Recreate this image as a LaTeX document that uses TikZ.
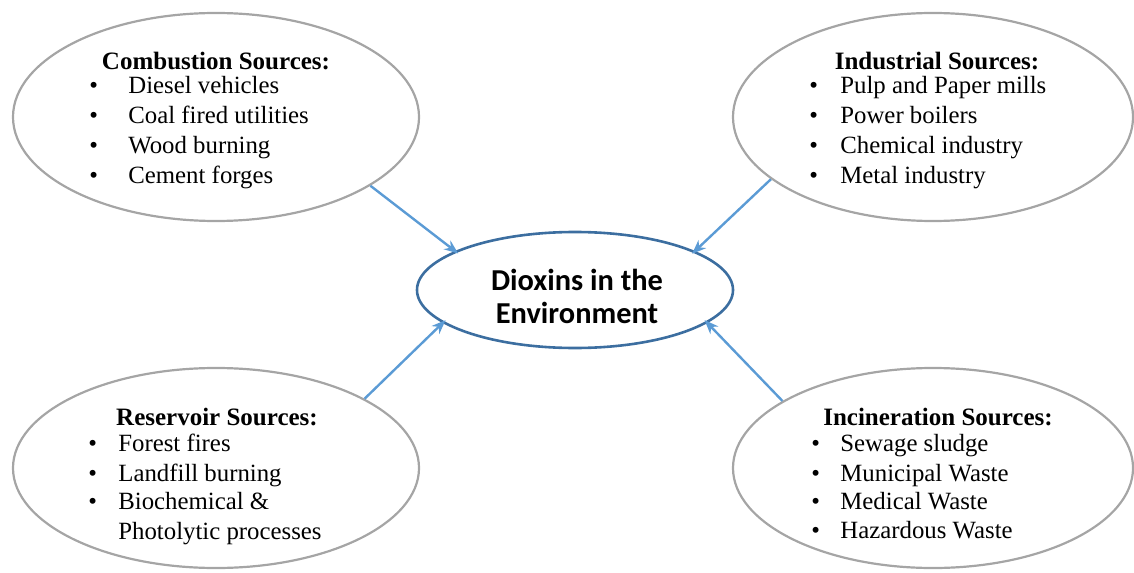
\documentclass[tikz,border=0pt]{standalone}
\usepackage{fontspec}
\setmainfont{Liberation Serif}
\newfontfamily\calibrifont{Carlito}
\usetikzlibrary{arrows.meta,shapes.geometric}
\definecolor{srcgray}{RGB}{165,165,165}
\definecolor{arrowblue}{RGB}{91,155,213}
\definecolor{centerblue}{RGB}{60,110,160}
\tikzset{
  srcell/.style={ellipse, draw=srcgray, line width=1.1bp, inner sep=0pt},
  centerell/.style={ellipse, draw=centerblue, line width=1.3bp, inner sep=0pt},
  heading/.style={anchor=base, inner sep=0pt, font=\fontsize{12.5bp}{14bp}\selectfont\bfseries},
  item/.style={anchor=base west, inner sep=0pt, font=\fontsize{12.4bp}{14bp}\selectfont},
  centertext/.style={anchor=base, inner sep=0pt, font=\fontsize{15.2bp}{17bp}\selectfont\calibrifont\bfseries},
  flow/.style={draw=arrowblue, line width=1.2bp, -{Stealth[length=7bp,width=5.5bp]}, shorten >=-2bp}
}
\begin{document}
\begin{tikzpicture}[x=0.5bp,y=-0.5bp]
\useasboundingbox (0,0) rectangle (1134,572);
% ellipses
\node[srcell, minimum width=203bp, minimum height=104bp] (comb) at (216,117) {};
\node[srcell, minimum width=200bp, minimum height=104bp] (ind) at (933,117) {};
\node[srcell, minimum width=203bp, minimum height=100bp] (res) at (216,468) {};
\node[srcell, minimum width=200bp, minimum height=100bp] (inc) at (933,468) {};
\node[centerell, minimum width=158bp, minimum height=58bp] (dio) at (575,290) {};
% combustion
\node[heading] (combh) at (216,70) {Combustion Sources:};
\node[item] (comb1) at (89,94) {\makebox[19.5bp][l]{\textbullet}Diesel vehicles};
\node[item] (comb2) at (89,124) {\makebox[19.5bp][l]{\textbullet}Coal fired utilities};
\node[item] (comb3) at (89,154) {\makebox[19.5bp][l]{\textbullet}Wood burning};
\node[item] (comb4) at (89,183) {\makebox[19.5bp][l]{\textbullet}Cement forges};
% industrial
\node[heading] (indh) at (937,70) {Industrial Sources:};
\node[item] (ind1) at (809,94) {\makebox[15.5bp][l]{\textbullet}Pulp and Paper mills};
\node[item] (ind2) at (809,124) {\makebox[15.5bp][l]{\textbullet}Power boilers};
\node[item] (ind3) at (809,154) {\makebox[15.5bp][l]{\textbullet}Chemical industry};
\node[item] (ind4) at (809,183) {\makebox[15.5bp][l]{\textbullet}Metal industry};
% reservoir
\node[heading] (resh) at (217,425) {Reservoir Sources:};
\node[item] (res1) at (88,451) {\makebox[15bp][l]{\textbullet}Forest fires};
\node[item] (res2) at (88,481) {\makebox[15bp][l]{\textbullet}Landfill burning};
\node[item] (res3) at (88,509) {\makebox[15bp][l]{\textbullet}Biochemical \&};
\node[item] (res4) at (118,539) {Photolytic processes};
% incineration
\node[heading] (inch) at (938,425) {Incineration Sources:};
\node[item] (inc1) at (811,451) {\makebox[14.5bp][l]{\textbullet}Sewage sludge};
\node[item] (inc2) at (811,481) {\makebox[14.5bp][l]{\textbullet}Municipal Waste};
\node[item] (inc3) at (811,509) {\makebox[14.5bp][l]{\textbullet}Medical Waste};
\node[item] (inc4) at (811,538) {\makebox[14.5bp][l]{\textbullet}Hazardous Waste};
% center text
\node[centertext] (dio1) at (577,290) {Dioxins in the};
\node[centertext] (dio2) at (577,323) {Environment};
% arrows
\draw[flow] (comb.-24.4) -- (dio.162.4);
\draw[flow] (ind.201.5) -- (dio.18.1);
\draw[flow] (res.25.6) -- (dio.194.2);
\draw[flow] (inc.156.7) -- (dio.-14.2);
\end{tikzpicture}
\end{document}
